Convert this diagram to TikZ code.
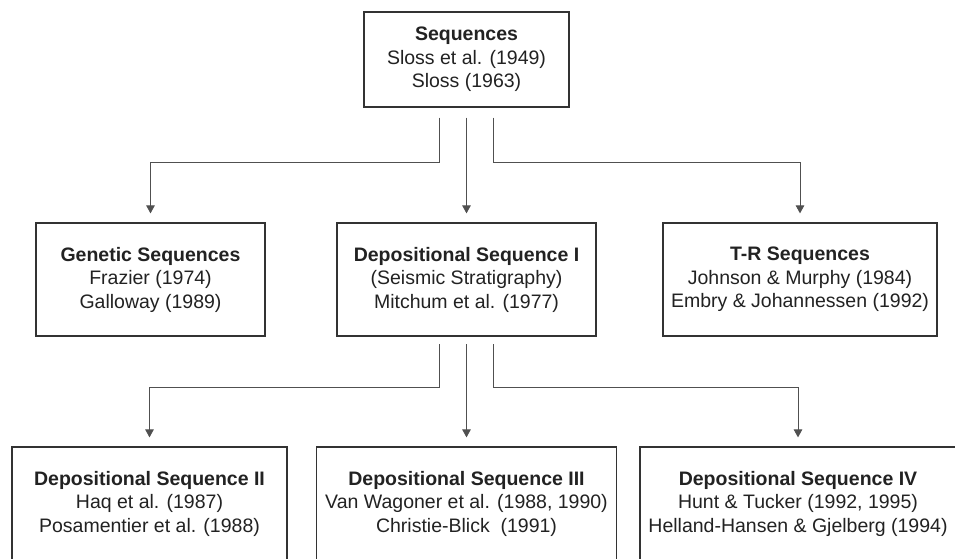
\documentclass[tikz,border=0pt]{standalone}
\usepackage{fontspec}
\setmainfont{Liberation Sans}
\usetikzlibrary{arrows.meta}
\definecolor{txt}{HTML}{222222}
\definecolor{boxline}{HTML}{333333}
\definecolor{conline}{HTML}{505050}
\begin{document}
\begin{tikzpicture}[x=1pt,y=-1pt,
  box/.style={draw=boxline,line width=1.2pt,rectangle,inner sep=0pt,align=center,
    text=txt,font=\fontsize{19.5}{23.5}\selectfont},
  conn/.style={draw=conline,line width=0.9pt,-{Triangle[length=8pt,width=8.5pt]}}]
\clip (0,0) rectangle (955,559);
\fill[white] (0,0) rectangle (955,559);
% row 1
\node[box,minimum width=205pt,minimum height=95pt] (top) at (466.5,59.5)
  {\textbf{Sequences}\\Sloss et al. (1949)\\Sloss (1963)};
% row 2
\node[box,minimum width=229pt,minimum height=113pt] (gen) at (150.5,279.5)
  {\textbf{Genetic Sequences}\\Frazier (1974)\\Galloway (1989)};
\node[box,minimum width=259pt,minimum height=113pt] (dep1) at (466.5,279.5)
  {\textbf{Depositional Sequence I}\\(Seismic Stratigraphy)\\Mitchum et al. (1977)};
\node[box,minimum width=274pt,minimum height=113pt] (tr) at (800,279.5)
  {\textbf{T-R Sequences}\\Johnson \& Murphy (1984)\\Embry \& Johannessen (1992)};
% row 3
\node[box,minimum width=275pt,minimum height=113pt] (dep2) at (149.5,503.5)
  {\textbf{Depositional Sequence II}\\Haq et al. (1987)\\Posamentier et al. (1988)};
\node[box,minimum width=300pt,minimum height=113pt] (dep3) at (466.5,503.5)
  {\textbf{Depositional Sequence III}\\Van Wagoner et al. (1988, 1990)\\Christie-Blick~~(1991)};
\node[box,minimum width=316pt,minimum height=113pt] (dep4) at (798,503.5)
  {\textbf{Depositional Sequence IV}\\Hunt \& Tucker (1992, 1995)\\Helland-Hansen \& Gjelberg (1994)};
% connectors from top
\draw[conn] ([xshift=-27pt,yshift=-10pt]top.south) -- ++(0pt,-44.5pt) -| ([yshift=9pt]gen.north);
\draw[conn] ([yshift=-10pt]top.south) -- ([yshift=9pt]dep1.north);
\draw[conn] ([xshift=27pt,yshift=-10pt]top.south) -- ++(0pt,-44.5pt) -| ([yshift=9pt]tr.north);
% connectors from dep1
\draw[conn] ([xshift=-27pt,yshift=-7.5pt]dep1.south) -- ++(0pt,-43pt) -| ([yshift=9pt]dep2.north);
\draw[conn] ([yshift=-7.5pt]dep1.south) -- ([yshift=9pt]dep3.north);
\draw[conn] ([xshift=27pt,yshift=-7.5pt]dep1.south) -- ++(0pt,-43pt) -| ([yshift=9pt]dep4.north);
\end{tikzpicture}
\end{document}
